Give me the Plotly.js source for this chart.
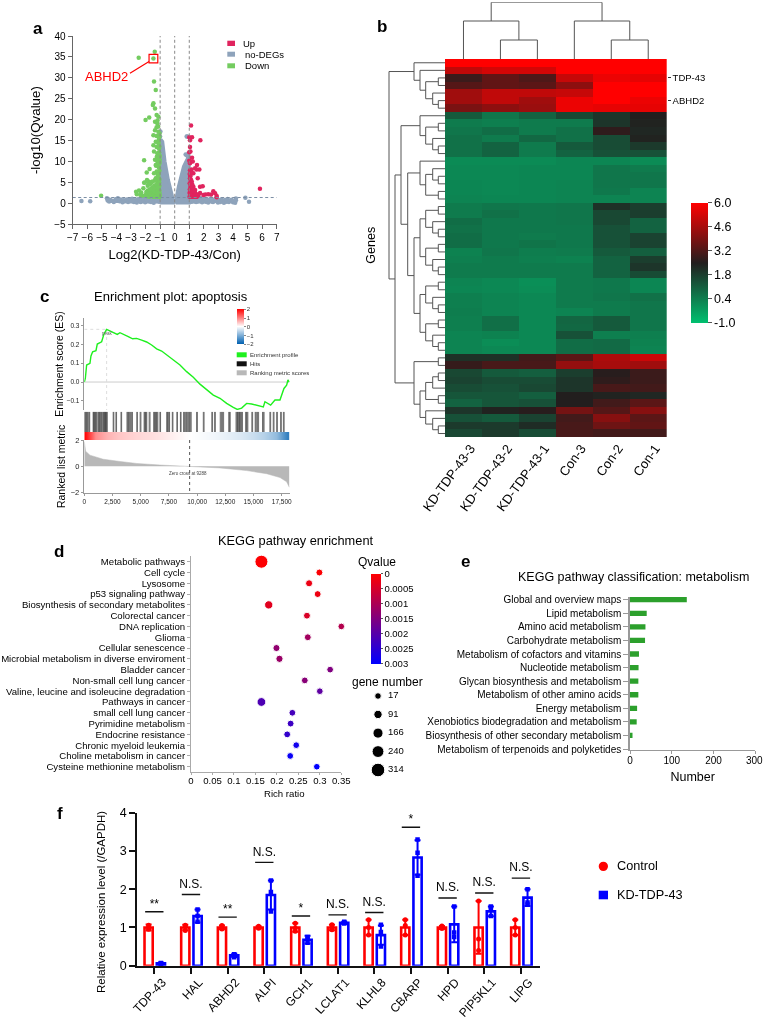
<!DOCTYPE html>
<html><head><meta charset="utf-8">
<script src="https://cdn.plot.ly/plotly-3.0.1.min.js"></script>
<style>html,body{margin:0;padding:0;background:#fff}#chart{width:763px;height:1019px;filter:blur(0.35px)}</style>
</head><body><div id="chart"></div>
<script>
// ---------- panel a: volcano ----------
const downX=[-1.37,-2.47,-1.46,-1.42,-1.3,-1.46,-1.5,-1.35,-2.0,-1.75,-1.24,-1.12,-1.35,-1.19,-1.24,-1.35,-1.12,-1.46,-1.24,-1.05,-1.3,-1.12,-1.46,-1.24,-1.08,-1.42,-1.19,-1.05,-2.1,-1.35,-1.19,-1.3,-1.12,-1.92,-1.24,-1.42,-1.12,-5.05,-2.65,-2.6,-2.45,-2.35,-2.3,-2.2,-2.15,-2.1,-2.05,-2.0,-1.95,-1.9,-1.85,-1.85,-1.8,-1.8,-1.75,-1.7,-1.7,-1.65,-1.65,-1.6,-1.6,-1.55,-1.55,-1.5,-1.5,-1.45,-1.45,-1.4,-1.4,-1.35,-1.35,-1.3,-1.3,-1.3,-1.25,-1.25,-1.2,-1.2,-1.2,-1.15,-1.15,-1.15,-1.1,-1.1,-1.1,-1.1,-1.1,-1.05,-1.05,-1.05,-1.05,-1.05,-1.05,-1.08,-1.06,-1.04,-1.03,-1.07,-1.05,-1.09,-1.04,-1.14,-1.18,-1.22,-1.28,-1.16,-1.9,-1.72,-1.58,-1.62,-1.48,-1.52,-1.38,-1.42,-1.33,-1.28,-1.22,-1.18,-1.12,-1.08,-1.68,-1.78,-1.43,-1.27,-1.17,-1.07,-1.03,-1.12,-1.06,-1.09,-1.15,-1.04,-1.2,-1.11];
const downY=[36.25,34.8,34.6,29.1,27.1,23.9,23.5,22.7,19.9,20.5,21.1,20.7,19.5,19.1,18.2,17.5,17.1,16.3,16.1,15.9,14.7,14.4,13.9,13.5,13.1,12.4,12,11.2,10.3,10.4,10,9.2,8.8,7.4,7.6,7.2,7.2,1.8,2.8,2.2,3.1,2.0,2.6,1.8,3.6,4.9,5.0,2.0,2.7,1.7,3.1,4.2,2.2,5.2,1.6,3.3,2.5,1.9,4.7,5.1,2.9,1.7,3.8,2.3,5.2,3.0,1.6,4.2,2.0,5.5,2.7,1.7,3.5,6.0,2.2,4.6,1.6,3.0,5.4,2.0,4.0,6.4,1.7,2.7,3.5,5.0,7.0,1.5,2.3,3.1,4.2,5.7,7.8,8.6,9.5,10.4,11.3,12.2,13.6,15.2,16.7,18.4,19.8,11.2,9.0,6.8,5.6,8.2,2.4,2.0,2.5,3.4,2.6,3.3,3.5,2.5,4.5,3.0,3.8,2.5,3.3,4.6,2.9,1.7,2.5,2.6,1.9,2.0,4.9,6.0,6.4,9.9,10.8,14.5,17.8,21.0];
const upX=[1.12,1.0,1.19,1.05,1.76,1.05,1.08,1.0,1.19,1.0,1.24,1.53,1.05,1.4,1.69,1.5,1.16,1.05,1.28,1.09,1.58,1.05,1.12,1.74,1.92,1.28,1.09,1.4,1.5,1.16,1.24,1.05,1.32,1.5,1.74,1.97,2.3,2.5,2.65,2.77,2.88,2.88,5.85,1.02,1.06,1.1,1.14,1.18,1.22,1.26,1.3,1.34,1.38,1.42,1.46,1.04,1.08,1.12,1.17,1.2,1.25,1.31,1.36,1.55,1.62,2.1,1.03,1.07,1.13,1.03,1.06,1.09,1.12,1.15,1.2,1.24,1.28,1.35,1.44,1.52,1.03,1.06];
const upY=[18.6,15.8,15.8,15.1,15.1,13.5,12.4,12.2,10.9,10.2,10,9.2,9.6,8.4,8.1,8.1,8.1,7.9,7.2,6.8,6,6,4.8,4,4.1,4,3.9,3.2,2.2,2.8,2,2.4,2.6,1.6,2.5,2,2.2,2.1,2.9,2.4,1.75,1.45,3.5,1.6,2.1,1.7,3.1,1.6,3.6,1.8,2.3,1.6,2.7,1.9,1.6,3.4,4.4,5.6,5.2,2.5,1.6,3.3,2.0,1.7,1.9,2.1,7.0,6.4,7.4,2.6,3.0,2.4,2.0,4.1,4.6,3.2,2.9,1.9,2.2,1.9,4.8,5.9];
const greyX=[-6.4,-5.8,-4.65,-4.6,-4.55,-4.5,-4.42,-4.3,-4.18,-4.05,-3.97,-3.9,-3.78,-3.7,-3.58,-3.5,-3.42,-3.28,-3.2,-3.12,-3.0,-2.92,-2.8,-2.72,-2.6,-2.52,-2.4,-2.33,-2.2,-2.14,-2.03,-1.95,-1.82,-1.75,-1.63,-1.55,-1.44,-1.36,-1.25,-1.17,-1.06,-0.98,-1.0,-0.95,-0.9,0.87,0.82,0.95,0.75,0.85,0.9,1.04,1.13,1.22,1.3,1.38,1.47,1.55,1.63,1.72,1.8,1.88,1.97,2.05,2.14,2.22,2.3,2.38,2.47,2.55,2.63,2.72,2.8,2.88,2.97,3.05,3.13,3.22,3.3,3.38,3.47,3.55,3.63,3.72,3.8,3.9,4.0,4.08,4.15,4.2,4.2,4.85,5.1];
const greyY=[0.55,0.5,1.2,0.7,1.0,0.45,0.8,0.6,0.35,1.0,0.7,1.2,0.5,0.9,0.25,0.75,0.5,0.95,0.3,0.8,0.5,1.1,0.35,0.7,0.2,1.0,0.55,0.3,1.15,0.6,0.25,0.85,0.5,1.2,0.3,0.8,0.15,1.0,0.55,1.25,0.4,17.2,16,15,14.8,16,16,12,11.7,11.5,11.2,0.9,0.4,1.2,0.6,0.95,0.3,1.1,0.5,0.8,1.2,0.25,0.65,1.05,0.4,0.9,0.2,0.7,1.15,0.45,0.3,0.85,1.05,0.55,0.2,0.75,0.35,1.0,0.5,0.15,0.8,0.4,1.05,0.3,0.6,0.85,0.25,0.5,0.15,1.15,0.75,1.35,0.4];
const wingLeftX=[-1.0,-1.0,-0.97,-0.82,-0.66,-0.43,-0.2,-0.09,-0.09,-1.0];
const wingLeftY=[0.1,14.2,14.9,14.7,10,5.6,2.4,0.8,0.1,0.1];
const wingRightX=[0.07,0.07,0.25,0.43,0.6,0.82,1.0,1.0,0.07];
const wingRightY=[0.1,0.8,4,6.8,8.8,10.4,11.5,0.1,0.1];
const baseBandX=[-4.4,-3.5,-2.5,-1.5,-1,-0.1,0.1,1,2,3,4,4,3,2,1,0,-1,-2,-3,-4.4,-4.4];
const baseBandY=[.9,1,1.1,1.2,1.3,.8,.8,1.3,1.2,1,.9,.25,.15,.1,.05,.05,.05,.1,.15,.25,.9];
const abhd2Point=[-1.46,34.6];
const volcanoXTicks=[-7,-6,-5,-4,-3,-2,-1,0,1,2,3,4,5,6,7];
const volcanoYTicks=[-5,0,5,10,15,20,25,30,35,40];

// ---------- panel b: heat map ----------
const heatColumns=["KD-TDP-43-3","KD-TDP-43-2","KD-TDP-43-1","Con-3","Con-2","Con-1"];
const heatRows=[
[6,6,6,6,6,6],[5,5.3,5.3,6,6,6],[2.9,3.5,3.2,5.1,5.7,5.6],[3.3,3.5,3.4,4.2,6,6],[4.5,5,5,5.1,6,6],[4.5,5,4.5,5.7,6,5.7],[3.9,4.2,4.4,5.7,5.6,5.6],
[1.2,.6,1,1.6,2,2.5],[.5,.4,.5,.5,2,2.4],[.6,.8,.5,.7,2.7,2.3],[.7,.5,.9,.7,1.5,2.4],[.7,1,.5,1.2,1.5,1.9],[.7,1,.5,1,1.4,1.4],
[.15,.15,.15,.25,.25,.15],[.2,.2,.25,.25,.6,.5],[.2,.2,.25,.25,.6,.6],[.25,.2,.25,.3,.6,.6],[.25,.2,.25,.3,.55,.3],[.3,.25,.25,.3,.3,.3],
[.5,.6,.55,.6,2.1,1.8],[.5,.7,.55,.6,1.6,1.8],[.8,.55,.55,.6,1.6,1],[.7,.55,.55,.55,1.4,1],[.8,.55,.5,.55,1.4,1.7],[.8,.55,.65,.55,1.4,1.7],
[.35,.6,.45,.5,1.2,1.1],[.4,.5,.4,.35,1,1.8],[.5,.5,.5,.5,1,2],[.5,.5,.5,.5,1,1.5],[.3,.2,.05,.5,.55,.25],[.25,.2,.1,.5,.55,.25],
[.4,.3,.2,.5,.6,.7],[.4,.3,.2,.5,.5,.6],[.45,.3,.2,.3,.5,.6],[.4,.75,.2,.95,1.2,.6],[.4,.75,.2,.9,1.2,.6],[.3,.35,.2,1.4,.4,.4],[.3,.1,.2,.8,.85,.35],[.3,.2,.2,.8,.85,.3],
[2.1,2.1,3,3.4,4.7,5.2],[2.8,3.1,3.1,4.3,4.6,4.5],[1.6,1.2,1.1,1.8,2.6,2.9],[1.7,1.5,1.5,2,2.7,2.9],[1.5,1.4,1.6,2,3.1,3],[1.3,1.3,1.1,2.5,2.4,2.3],[1,1.3,1.4,2.5,3,3.4],[2,2.4,2.6,3.8,3.3,4.1],[1.4,1.2,1.7,3,4.1,3.4],[1.9,1.9,2.2,3.1,3.7,3.5],[1.6,1.9,1.5,3.1,3,3]];
const heatRowNumbers=[1,2,3,4,5,6,7,8,9,10,11,12,13,14,15,16,17,18,19,20,21,22,23,24,25,26,27,28,29,30,31,32,33,34,35,36,37,38,39,40,41,42,43,44,45,46,47,48,49,50];
const markedRows=[3,6];
const markedRowLabels=["TDP-43","ABHD2"];
const heatBarTicks=[-1,0.4,1.8,3.2,4.6,6];
const heatBarLabels=["-1.0","0.4","1.8","3.2","4.6","6.0"];
// dendrograms: [merge height, left child, right child]
const columnTree=[56.7,[38,0,[19,1,2]],[38,3,[19,4,5]]];
const rowTree=[56,
 [31,1,[25,2,[19.3,[6.7,3,4],[12.3,5,[6.7,6,7]]]]],
 [50,
  [44,
   [25,8,[19.3,[6.7,9,10],[12.3,11,[6.7,12,13]]]],
   [37.3,
    [25,14,[19.3,[12.3,15,[6.7,16,17]],[6.7,18,19]]],
    [31,
     [25,[19.3,[6.7,20,21],[12.3,22,[6.7,23,24]]],[19.3,[6.7,25,26],[12.3,27,[6.7,28,29]]]],
     [25,[19.3,[6.7,30,31],[12.3,32,[6.7,33,34]]],[19.3,[6.7,35,36],[12.3,37,[6.7,38,39]]]]
    ]]],
  [31,[6.7,40,41],[25,[19.3,[12.3,[6.7,42,43],44],[6.7,45,46]],[19.3,47,[12.3,48,[6.7,49,50]]]]]
 ]];

// ---------- panel c: GSEA ----------
const esX=[0,90,207,502,591,739,1034,1152,1537,1743,1980,2275,2571,2925,3162,3457,3900,4285,4640,5083,5526,5969,6412,6856,7299,7890,8481,9072,9663,10254,10845,11436,12027,12618,13209,13564,13948,14391,14834,15425,15868,16016,16518,16903,17346,17700,17937,18055,18173];
const esY=[0,.019,.09,.099,.138,.16,.166,.201,.213,.254,.279,.27,.263,.252,.261,.254,.24,.229,.231,.222,.212,.196,.176,.164,.143,.116,.09,.055,.025,-.011,-.042,-.069,-.086,-.113,-.134,-.145,-.138,-.113,-.116,-.127,-.132,-.104,-.122,-.095,-.095,-.034,-.016,.011,0];
const hitPositions=[30,90,150,210,270,340,420,480,780,830,880,930,990,1060,1120,1220,1280,1340,1400,1460,1520,1600,1680,1730,1780,1830,1880,1930,1980,2040,2560,2620,2800,2860,3250,3310,3780,3850,3910,3980,4050,4120,4200,4270,4650,4710,4950,5020,5300,5360,5420,5480,5540,5750,5830,6150,6210,6270,6330,6390,6450,6520,6700,6760,7300,7370,7430,7500,7560,7800,7860,8200,8260,8520,8580,8800,8870,8950,9030,9090,9170,9250,9330,9400,9480,9950,10030,10550,10620,11300,11370,11550,11620,12050,12130,12200,12270,12350,12800,12870,12940,13450,13520,13580,13640,13700,13760,13820,13880,13950,14020,14300,14370,14430,14500,14850,14920,15150,15220,15300,15370,15450,15800,15870,15940,16450,16520,16750,16820,17050,17120,17400,17470,17650,17720];
const bandX=[0,1000,2000,3000,4000,5000,6000,7000,8000,9000,10000,11000,12000,13000,14000,15000,16000,17000,18000];
const bandValues=[2,.9,.6,.45,.37,.3,.25,.18,.1,.02,-.03,-.08,-.14,-.22,-.3,-.42,-.58,-.85,-1.6];
const rankX=[0,118,500,1684,3162,4640,6708,9338,12027,14390,16164,17346,17937,18173];
const rankY=[1.88,1.15,.85,.54,.37,.22,.1,0,-.12,-.32,-.56,-.85,-1.17,-1.59];
const esPeak=[1980,.279];
const zeroCross=9338;
const gseaXTicks=[0,2500,5000,7500,10000,12500,15000,17500];
const esTicks=[-.1,0,.1,.2,.3];
const rankTicks=[-2,0,2];

// ---------- panel d: KEGG enrichment ----------
const pathways=["Metabolic pathways","Cell cycle","Lysosome","p53 signaling pathway","Biosynthesis of secondary metabolites","Colorectal cancer","DNA replication","Glioma","Cellular senescence","Microbial metabolism in diverse enviroment","Bladder cancer","Non-small cell lung cancer","Valine, leucine and isoleucine degradation","Pathways in cancer","small cell lung cancer","Pyrimidine metabolism","Endocrine resistance","Chronic myeloid leukemia","Choline metabolism in cancer","Cysteine methionine metabolism"];
const richRatio=[.164,.299,.275,.295,.181,.27,.35,.272,.199,.206,.324,.265,.3,.164,.236,.232,.224,.245,.231,.293];
const qValue=[.00002,.00005,.00022,.0002,.00035,.00045,.0009,.0011,.0013,.0012,.0015,.0014,.0019,.0021,.0022,.0023,.0024,.0028,.0029,.003];
const geneNumber=[290,32,38,30,90,30,20,30,40,45,22,25,20,110,25,28,28,22,25,18];
const geneLegend=[17,91,166,240,314];
const qTicks=[0,.0005,.001,.0015,.002,.0025,.003];
const qTickLabels=["0","0.0005","0.001","0.0015","0.002","0.0025","0.003"];
const richTicks=[0,.05,.1,.15,.2,.25,.3,.35];
const richLabels=["0","0.05","0.1","0.15","0.2","0.25","0.3","0.35"];

// ---------- panel e: KEGG classification ----------
const classes=["Global and overview maps","Lipid metabolism","Amino acid metabolism","Carbohydrate metabolism","Metabolism of cofactors and vitamins","Nucleotide metabolism","Glycan biosynthesis and metabolism","Metabolism of other amino acids","Energy metabolism","Xenobiotics biodegradation and metabolism","Biosynthesis of other secondary metabolism","Metabolism of terpenoids and polyketides"];
const classCounts=[136,40,37,36,21.5,20.5,20,20,17,16,6,0];

// ---------- panel f: qPCR ----------
const genes=["TDP-43","HAL","ABHD2","ALPI","GCH1","LCLAT1","KLHL8","CBARP","HPD","PIP5KL1","LIPG"];
const controlMean=[1,1,1,1,1,1,1,1,1,1,1];
const controlSD=[.08,.07,.05,.03,.11,.07,.2,.2,.04,.69,.2];
const knockdownMean=[.06,1.3,.27,1.85,.68,1.12,.8,2.83,1.08,1.42,1.78];
const knockdownSD=[.02,.17,.04,.38,.1,.03,.25,.45,.47,.13,.22];
const controlPoints=[[.95,1,1.06],[.92,1.02,1.06],[.96,1,1.05],[.98,1,1.03],[.9,.98,1.11],[.94,1,1.07],[.8,1,1.2],[.8,1.05,1.2],[.97,1,1.04],[.4,.7,1.69],[.8,1,1.2]];
const knockdownPoints=[[.05,.06,.07],[1.15,1.3,1.47],[.22,.27,.3],[1.42,1.93,2.23],[.6,.7,.75],[1.1,1.13,1.15],[.5,.88,1.07],[2.35,2.95,3.3],[.75,.87,1.55],[1.3,1.5,1.55],[1.6,1.65,2]];
const sigHeights=[1.41,1.86,1.27,2.7,1.3,1.33,1.39,3.62,1.77,1.9,2.29];
const sigLabels=["**","N.S.","**","N.S.","*","N.S.","N.S.","*","N.S.","N.S.","N.S."];

// ---------- helpers ----------
const W=763,H=1019,FONT='"Liberation Sans", Arial, sans-serif';
const dx=(a,b)=>[a/W,b/W], dy=(a,b)=>[1-b/H,1-a/H];
const px=v=>v/W, py=v=>1-v/H;
function axis(domain,anchor,o){return Object.assign({domain,anchor,showgrid:false,zeroline:false,fixedrange:true,tickfont:{size:10,color:'#000',family:FONT}},o||{});}
function hidden(domain,anchor,range){return axis(domain,anchor,{range,visible:false});}
function tree(node,segsA,segsB){
  if(typeof node==='number')return{pos:node,h:0};
  const L=tree(node[1],segsA,segsB),R=tree(node[2],segsA,segsB),h=node[0];
  segsA.push(L.pos,L.pos,R.pos,R.pos,null);segsB.push(L.h,h,h,R.h,null);
  return{pos:(L.pos+R.pos)/2,h};
}
const colPos=[],colH=[];tree(columnTree,colPos,colH);
const rowPos=[],rowH=[];tree(rowTree,rowPos,rowH);
const hitX=[],hitY=[];hitPositions.forEach(h=>{hitX.push(h,h,null);hitY.push(0,1,null);});
const dendroLine={color:'#555',width:1};
const GREY='#8ea3bb';

const barW=.224,redC=-.155,blueC=.18;
const idx=genes.map((g,i)=>i);
const pts=(arr,c)=>{const X=[],Y=[];arr.forEach((p,i)=>p.forEach(v=>{X.push(i+c);Y.push(v);}));return[X,Y];};
const [cpx,cpy]=pts(controlPoints,redC),[kpx,kpy]=pts(knockdownPoints,blueC);
const sigX=[],sigY=[];sigHeights.forEach((h,i)=>{sigX.push(i-.25,i+.25,null);sigY.push(h,h,null);});
const sigTextY=sigHeights.map((h,i)=>h+(sigLabels[i]==='N.S.'?.1:.02));
const geneSize=n=>6.6+(n-17)/297*7;

const traces=[
 // a
 {type:'scatter',mode:'lines',x:baseBandX,y:baseBandY,fill:'toself',fillcolor:GREY,line:{color:GREY,width:1},xaxis:'x',yaxis:'y',hoverinfo:'skip'},
 {type:'scatter',mode:'lines',x:wingLeftX,y:wingLeftY,fill:'toself',fillcolor:GREY,line:{color:GREY,width:3},xaxis:'x',yaxis:'y',hoverinfo:'skip'},
 {type:'scatter',mode:'lines',x:wingRightX,y:wingRightY,fill:'toself',fillcolor:GREY,line:{color:GREY,width:3},xaxis:'x',yaxis:'y',hoverinfo:'skip'},
 {type:'scatter',mode:'markers',name:'no-DEGs',x:greyX,y:greyY,marker:{color:GREY,size:4.5},xaxis:'x',yaxis:'y'},
 {type:'scatter',mode:'markers',name:'Down',x:downX,y:downY,marker:{color:'#74cc60',size:4.5},xaxis:'x',yaxis:'y'},
 {type:'scatter',mode:'markers',name:'Up',x:upX,y:upY,marker:{color:'#e0245e',size:4.5},xaxis:'x',yaxis:'y'},
 // b
 {type:'heatmap',x:idx.slice(0,6),y:heatRowNumbers,z:heatRows,xaxis:'x2',yaxis:'y2',zmin:-1,zmax:6,
  colorscale:[[0,'rgb(0,192,112)'],[.5,'rgb(34,30,30)'],[1,'rgb(255,0,0)']],
  colorbar:{x:px(691),xanchor:'left',y:py(322.7),yanchor:'bottom',len:119.7,lenmode:'pixels',thickness:17,thicknessmode:'pixels',xpad:0,ypad:0,outlinewidth:0,tickmode:'array',tickvals:heatBarTicks,ticktext:heatBarLabels,ticks:'outside',ticklen:4,tickcolor:'#555',tickfont:{size:12.5,family:FONT,color:'#000'}}},
 {type:'scatter',mode:'lines',x:colPos,y:colH,line:dendroLine,xaxis:'x3',yaxis:'y3',hoverinfo:'skip'},
 {type:'scatter',mode:'lines',x:rowH,y:rowPos,line:dendroLine,xaxis:'x4',yaxis:'y4',hoverinfo:'skip'},
 // c
 {type:'scatter',mode:'lines',x:[esX[0],esX[esX.length-1]],y:[0,0],line:{color:'#ccc',width:1},xaxis:'x5',yaxis:'y5',hoverinfo:'skip'},
 {type:'scatter',mode:'lines',x:[0,esPeak[0],esPeak[0]],y:[esPeak[1],esPeak[1],-.148],line:{color:'#ddd',width:1,dash:'dot'},xaxis:'x5',yaxis:'y5',hoverinfo:'skip'},
 {type:'scatter',mode:'lines',name:'Enrichment profile',x:esX,y:esY,line:{color:'#1ef01e',width:1.4},xaxis:'x5',yaxis:'y5'},
 {type:'scatter',mode:'lines',name:'Hits',x:hitX,y:hitY,line:{color:'rgba(30,30,30,.6)',width:1},xaxis:'x6',yaxis:'y6',hoverinfo:'skip'},
 {type:'heatmap',x:bandX,y:[0,1],z:[bandValues,bandValues],zsmooth:'best',xaxis:'x7',yaxis:'y7',zmin:-2,zmax:2,
  colorscale:[[0,'#0060b0'],[.5,'#ffffff'],[1,'#ff0000']],
  colorbar:{x:px(236.7),xanchor:'left',y:py(344.3),yanchor:'bottom',len:35.3,lenmode:'pixels',thickness:7.3,thicknessmode:'pixels',xpad:0,ypad:0,outlinewidth:0,tickmode:'array',tickvals:[-2,-1,0,1,2],ticks:'outside',ticklen:2,tickcolor:'#888',tickfont:{size:6,family:FONT,color:'#333'}}},
 {type:'scatter',mode:'lines',name:'Ranking metric scores',x:rankX,y:rankY,fill:'tozeroy',fillcolor:'#b8b8b8',line:{color:'#b8b8b8',width:.5},xaxis:'x8',yaxis:'y8'},
 {type:'scatter',mode:'lines',x:[zeroCross,zeroCross],y:[2,-2],line:{color:'#555',width:1,dash:'dot'},xaxis:'x8',yaxis:'y8',hoverinfo:'skip'},
 // d
 {type:'scatter',mode:'markers',x:richRatio,y:pathways,xaxis:'x9',yaxis:'y9',cliponaxis:false,
  marker:{opacity:1,size:geneNumber.map(geneSize),color:qValue.map(q=>-q),cmin:-.003,cmax:0,colorscale:[[0,'#0000ff'],[1,'#ff0000']],
  colorbar:{x:px(370.7),xanchor:'left',y:py(663.7),yanchor:'bottom',len:90.4,lenmode:'pixels',thickness:10,thicknessmode:'pixels',xpad:0,ypad:0,outlinewidth:0,tickmode:'array',tickvals:qTicks.map(q=>-q),ticktext:qTickLabels,ticks:'outside',ticklen:2,tickcolor:'#555',tickfont:{size:9.5,family:FONT,color:'#000'}}}},
 {type:'scatter',mode:'markers',x:geneLegend.map(()=>0),y:geneLegend,cliponaxis:false,marker:{opacity:1,color:'#000',size:geneLegend.map(geneSize)},xaxis:'x12',yaxis:'y12'},
 {type:'scatter',mode:'text',x:geneLegend.map(()=>1.25),y:geneLegend,text:geneLegend.map(String),textposition:'middle right',textfont:{size:9.5,family:FONT,color:'#000'},cliponaxis:false,xaxis:'x12',yaxis:'y12'},
 // e
 {type:'bar',orientation:'h',x:classCounts,y:classes,width:.39,marker:{color:'#2ca02c'},xaxis:'x10',yaxis:'y10'},
 // f
 {type:'bar',name:'Control',x:idx,y:controlMean,width:barW,offset:redC-barW/2,marker:{color:'rgba(255,255,255,0)',line:{color:'#ff0000',width:2.6}},error_y:{type:'data',array:controlSD,color:'#ff0000',thickness:2,width:3},xaxis:'x11',yaxis:'y11'},
 {type:'bar',name:'KD-TDP-43',x:idx,y:knockdownMean,width:barW,offset:blueC-barW/2,marker:{color:'rgba(255,255,255,0)',line:{color:'#0000ff',width:2.6}},error_y:{type:'data',array:knockdownSD,color:'#0000ff',thickness:2,width:3},xaxis:'x11',yaxis:'y11'},
 {type:'scatter',mode:'markers',x:cpx,y:cpy,marker:{color:'#ff0000',size:5,symbol:'circle'},xaxis:'x11',yaxis:'y11'},
 {type:'scatter',mode:'markers',x:kpx,y:kpy,marker:{color:'#0000ff',size:4.5,symbol:'square'},xaxis:'x11',yaxis:'y11'},
 {type:'scatter',mode:'lines',x:sigX,y:sigY,line:{color:'#111',width:1.4},xaxis:'x11',yaxis:'y11',hoverinfo:'skip'},
 {type:'scatter',mode:'text',x:idx,y:sigTextY,text:sigLabels,textposition:'top center',textfont:{size:12,family:FONT,color:'#000'},xaxis:'x11',yaxis:'y11',cliponaxis:false,hoverinfo:'skip'}
];

const T=(text,x,y,size,o)=>Object.assign({text,x:px(x),y:py(y),xref:'paper',yref:'paper',showarrow:false,xanchor:'center',yanchor:'middle',font:{size,family:FONT,color:'#000'}},o||{});
const L=(text,x,y,size,o)=>T(text,x,y,size,Object.assign({xanchor:'left'},o||{}));
const rect=(x0,y0,x1,y1,color)=>({type:'rect',xref:'paper',yref:'paper',x0:px(x0),x1:px(x1),y0:py(y0),y1:py(y1),fillcolor:color,line:{width:0}});
const vdash=v=>({type:'line',xref:'x',yref:'y',x0:v,x1:v,y0:-5,y1:40,line:{color:'#888',width:1,dash:'3px,2.5px'}});

const layout={
 width:W,height:H,margin:{l:0,r:0,t:0,b:0},paper_bgcolor:'#fff',plot_bgcolor:'rgba(0,0,0,0)',showlegend:false,barmode:'overlay',font:{family:FONT,color:'#000'},
 // a
 xaxis:axis(dx(72.7,276.7),'y',{range:[-7,7],tickmode:'array',tickvals:volcanoXTicks,ticks:'outside',ticklen:4,showline:true,linecolor:'#666',tickcolor:'#666',title:{text:'Log2(KD-TDP-43/Con)',font:{size:13,family:FONT,color:'#000'},standoff:7}}),
 yaxis:axis(dy(36,224.3),'x',{range:[-5,40],tickmode:'array',tickvals:volcanoYTicks,ticks:'outside',ticklen:4,showline:true,linecolor:'#666',tickcolor:'#666',title:{text:'-log10(Qvalue)',font:{size:13.3,family:FONT,color:'#000'},standoff:10}}),
 // b
 xaxis2:axis(dx(445,666.7),'y2',{range:[-.5,5.5],tickmode:'array',tickvals:[0,1,2,3,4,5],ticktext:heatColumns,tickangle:-54,ticks:'',tickfont:{size:13,family:FONT,color:'#000'},ticklabelshift:7}),
 yaxis2:axis(dy(59,437.3),'x2',{range:[50.5,.5],side:'right',tickmode:'array',tickvals:markedRows,ticktext:markedRowLabels,ticks:'outside',ticklen:3,tickcolor:'#333',tickfont:{size:9.5,family:FONT,color:'#000'}}),
 xaxis3:hidden(dx(445,666.7),'y3',[-.5,5.5]),
 yaxis3:hidden(dy(2.3,59),'x3',[0,56.7]),
 xaxis4:hidden(dx(385,445),'y4',[60,0]),
 yaxis4:hidden(dy(59,437.3),'x4',[50.5,.5]),
 // c
 xaxis5:hidden(dx(84.3,289.6),'y5',[0,18200]),
 yaxis5:axis(dy(318,410),'x5',{range:[-.148,.339],tickmode:'array',tickvals:esTicks,tickformat:'.1f',ticks:'outside',ticklen:2.5,showline:true,linecolor:'#999',tickcolor:'#999',tickfont:{size:6.5,family:FONT,color:'#222'},title:{text:'Enrichment score (ES)',font:{size:10.5,family:FONT,color:'#000'},standoff:0}}),
 xaxis6:hidden(dx(84.3,289.6),'y6',[0,18200]),
 yaxis6:hidden(dy(411.7,432),'x6',[0,1]),
 xaxis7:hidden(dx(84.3,289.6),'y7',[0,18200]),
 yaxis7:hidden(dy(432,440),'x7',[0,1]),
 xaxis8:axis(dx(84.3,289.6),'y8',{range:[0,18200],tickmode:'array',tickvals:gseaXTicks,tickformat:',d',ticks:'outside',ticklen:2.5,showline:true,linecolor:'#999',tickcolor:'#999',tickfont:{size:6.5,family:FONT,color:'#222'}}),
 yaxis8:axis(dy(440,492.7),'x8',{range:[-2,2],tickmode:'array',tickvals:rankTicks,ticks:'outside',ticklen:2.5,showline:true,linecolor:'#999',tickcolor:'#999',tickfont:{size:7.5,family:FONT,color:'#222'},title:{text:'Ranked list metric',font:{size:10.5,family:FONT,color:'#000'},standoff:3}}),
 // d
 xaxis9:axis(dx(191,341.3),'y9',{range:[0,.35],tickmode:'array',tickvals:richTicks,ticktext:richLabels,ticks:'outside',ticklen:2,showline:true,linecolor:'#aaa',tickcolor:'#aaa',tickfont:{size:9.6,family:FONT,color:'#000'},ticklabelstandoff:-2}),
 yaxis9:axis(dy(556,771.7),'x9',{type:'category',range:[19.46,-.53],tickmode:'linear',dtick:1,tick0:0,ticks:'outside',ticklen:3,showline:true,linecolor:'#aaa',tickcolor:'#aaa',tickfont:{size:9.6,family:FONT,color:'#000'}}),
 xaxis12:hidden(dx(370,410),'y12',[-1,4]),
 yaxis12:hidden(dy(696,770),'x12',[314,17]),
 // e
 xaxis10:axis(dx(630,755.3),'y10',{range:[0,300],tickmode:'array',tickvals:[0,100,200,300],ticktext:['0','100','200',''],ticks:'outside',ticklen:3,showline:true,linecolor:'#999',tickcolor:'#999',tickfont:{size:10,family:FONT,color:'#000'},ticklabelstandoff:-2,title:{text:'Number',font:{size:12.5,family:FONT,color:'#000'},standoff:7}}),
 yaxis10:axis(dy(597,750),'x10',{type:'category',range:[11.07,-.2],tickmode:'linear',dtick:1,tick0:0,ticks:'outside',ticklen:5,showline:true,linewidth:1.5,linecolor:'#999',tickcolor:'#999',tickfont:{size:10,family:FONT,color:'#000'}}),
 // f
 xaxis11:axis(dx(137.3,540),'y11',{range:[-.464,10.52],tickmode:'array',tickvals:idx,ticktext:genes,tickangle:-47,ticks:'outside',ticklen:6,tickwidth:2.2,tickcolor:'#111',showline:true,linewidth:2,linecolor:'#111',tickfont:{size:12,family:FONT,color:'#000'},ticklabelshift:8,ticklabelstandoff:-3}),
 yaxis11:axis(dy(812.7,965.7),'x11',{range:[0,4],tickmode:'array',tickvals:[0,1,2,3,4],ticks:'outside',ticklen:6,tickwidth:2,tickcolor:'#111',showline:true,linewidth:2,linecolor:'#111',tickfont:{size:12.5,family:FONT,color:'#000'}}),
 shapes:[
  vdash(-1),vdash(0),vdash(1),
  {type:'line',xref:'x',yref:'y',x0:-7,x1:7,y0:1.4,y1:1.4,line:{color:'#7a8da3',width:1,dash:'3px,2.5px'}},
  {type:'rect',xref:'x',yref:'y',x0:abhd2Point[0]-.3,x1:abhd2Point[0]+.3,y0:abhd2Point[1]-1,y1:abhd2Point[1]+1,line:{color:'#ff0000',width:1.2}},
  {type:'line',xref:'x',yref:'y',x0:-3.07,x1:-1.76,y0:31.1,y1:33.9,line:{color:'#ff0000',width:1.2}},
  rect(227.3,40.7,235,46,'#e0245e'),rect(227.3,51.7,235,56.7,'#8ea3bb'),rect(227.3,63.3,235,68.3,'#74cc60'),
  rect(236.7,352.3,246.7,357.3,'#1ef01e'),rect(236.7,361.3,246.7,366.3,'#111'),rect(236.7,370.3,246.7,375.3,'#b8b8b8'),
  {type:'circle',xref:'paper',yref:'paper',x0:px(598.7),x1:px(608),y0:py(861.7),y1:py(871),fillcolor:'#ff0000',line:{width:0}},
  rect(598.7,890.7,608,899.3,'#0000ff')
 ],
 annotations:[
  T('<b>a</b>',38,29,17),T('<b>b</b>',381.7,26,17),T('<b>c</b>',44,297,17),T('<b>d</b>',59,551,17),T('<b>e</b>',465.7,561,17),T('<b>f</b>',60,813,17),
  T('ABHD2',106,76.7,13,{font:{size:13,family:FONT,color:'#ff0000'}}),
  L('Up',240.7,43.3,9.5),L('no-DEGs',242.7,54.3,9.5),L('Down',242.7,65.7,9.5),
  T('Genes',370.7,245,12.5,{textangle:-90}),
  T('Enrichment plot: apoptosis',171,296.7,13),
  L('Enrichment profile',248.3,354.7,6,{font:{size:6,family:FONT,color:'#333'}}),
  L('Hits',248.3,363.7,6,{font:{size:6,family:FONT,color:'#333'}}),
  L('Ranking metric scores',248.3,372.7,6,{font:{size:6,family:FONT,color:'#333'}}),
  T('Zero cross at 9288',187.7,473.7,4.5,{font:{size:4.5,family:FONT,color:'#444'}}),
  T('peak',107,333,4.5,{font:{size:4.5,family:FONT,color:'#666'}}),
  T('KEGG pathway enrichment',295.7,540,12.8),
  T('Qvalue',377,562,12),T('gene number',387.7,681.7,12),
  T('Rich ratio',284,793,9.6),
  T('KEGG pathway classification: metabolism',633.3,576.7,12.5),
  T('300',754.5,760.5,10),
  T('Relative expression level (/GAPDH)',101,902,11.5,{textangle:-90}),
  L('Control',615,866.3,12.7),L('KD-TDP-43',615,895,12.7)
 ]
};
Plotly.newPlot('chart',traces,layout,{displayModeBar:false,responsive:false});
</script></body></html>
